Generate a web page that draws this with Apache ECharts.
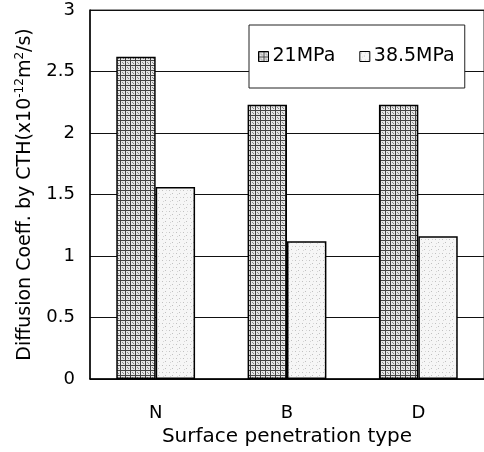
<!DOCTYPE html>
<html lang="en">
<head>
    <meta charset="UTF-8">
    <title>Diffusion coefficient by CTH</title>
    <style>
        html, body { margin: 0; padding: 0; background: #fff; }
        #chart-box { width: 484px; height: 452px; }
    </style>
</head>
<body>
<div id="chart-box"></div>
<script src="https://cdn.jsdelivr.net/npm/echarts@6/dist/echarts.min.js"></script>
<script>
    // data
    var types = ['N', 'B', 'D'];
    var seriesNames = ['21MPa', '38.5MPa'];
    var coeff21 = [2.62, 2.23, 2.23];
    var coeff385 = [1.56, 1.12, 1.16];

    var font = 'DejaVu Sans';

    // fill textures: grid hatch for 21MPa, light stipple for 38.5MPa
    function gridTile() {
        var c = document.createElement('canvas');
        c.width = 5; c.height = 5;
        var g = c.getContext('2d');
        g.fillStyle = '#e8e8e8';
        g.fillRect(0, 0, 5, 5);
        g.fillStyle = '#444';
        g.fillRect(0, 0, 5, 1);
        g.fillRect(0, 0, 1, 5);
        g.fillStyle = '#888';
        g.fillRect(2, 2, 1, 1);
        g.fillRect(3, 3, 1, 1);
        return c;
    }
    function dotTile() {
        var c = document.createElement('canvas');
        c.width = 7; c.height = 7;
        var g = c.getContext('2d');
        g.fillStyle = '#f6f6f6';
        g.fillRect(0, 0, 7, 7);
        g.fillStyle = '#c0c0c0';
        g.fillRect(1, 1, 1, 1);
        g.fillRect(4, 4, 1, 1);
        g.fillStyle = '#d6d6d6';
        g.fillRect(5, 1, 1, 1);
        g.fillRect(2, 5, 1, 1);
        return c;
    }

    var myChart = echarts.init(document.getElementById('chart-box'));

    var option = {
        animation: false,
        textStyle: { fontFamily: font, color: '#000' },
        grid: {
            left: 90, top: 10, right: -3, bottom: 72,
            show: true, borderColor: '#333', borderWidth: 1,
            containLabel: false
        },
        legend: {
            data: seriesNames,
            icon: 'rect',
            left: 249, top: 25,
            padding: [22, 10, 22, 9],
            itemGap: 24,
            itemWidth: 10, itemHeight: 10,
            backgroundColor: '#fff',
            borderColor: '#222', borderWidth: 1,
            textStyle: { fontFamily: font, fontSize: 19, color: '#000', padding: [0, 0, 0, -1] },
            itemStyle: { borderColor: '#000', borderWidth: 1 }
        },
        xAxis: {
            type: 'category',
            data: types,
            name: 'Surface penetration type',
            nameLocation: 'middle',
            nameGap: 48,
            nameTextStyle: { fontFamily: font, fontSize: 20, color: '#000' },
            axisLine: { lineStyle: { color: '#000', width: 1.5 } },
            axisTick: { inside: true, length: 4, lineStyle: { color: '#000' } },
            axisLabel: { fontFamily: font, fontSize: 18, color: '#000', margin: 25 }
        },
        yAxis: {
            type: 'value',
            min: 0, max: 3, interval: 0.5,
            name: 'Diffusion Coeff. by CTH(x10{sup|-12}m{sup|2}/s)',
            nameLocation: 'middle',
            nameRotate: 90,
            nameGap: 54,
            nameTextStyle: {
                fontFamily: font, fontSize: 19, color: '#000',
                rich: {
                    sup: { fontFamily: font, fontSize: 12, color: '#000', padding: [0, 0, 10, 0] }
                }
            },
            axisLine: { show: true, lineStyle: { color: '#000', width: 1.5 } },
            axisTick: { show: false },
            axisLabel: { fontFamily: font, fontSize: 18, color: '#000', margin: 15 },
            splitLine: { lineStyle: { color: '#111', width: 1 } }
        },
        series: [
            {
                name: seriesNames[0],
                type: 'bar',
                data: coeff21,
                barWidth: '30%',
                barGap: '0%',
                itemStyle: {
                    color: { image: gridTile(), repeat: 'repeat' },
                    borderColor: '#000', borderWidth: 1.5
                }
            },
            {
                name: seriesNames[1],
                type: 'bar',
                data: coeff385,
                barWidth: '30%',
                barGap: '0%',
                itemStyle: {
                    color: { image: dotTile(), repeat: 'repeat' },
                    borderColor: '#000', borderWidth: 1.5
                }
            }
        ]
    };

    myChart.setOption(option);
</script>
</body>
</html>
